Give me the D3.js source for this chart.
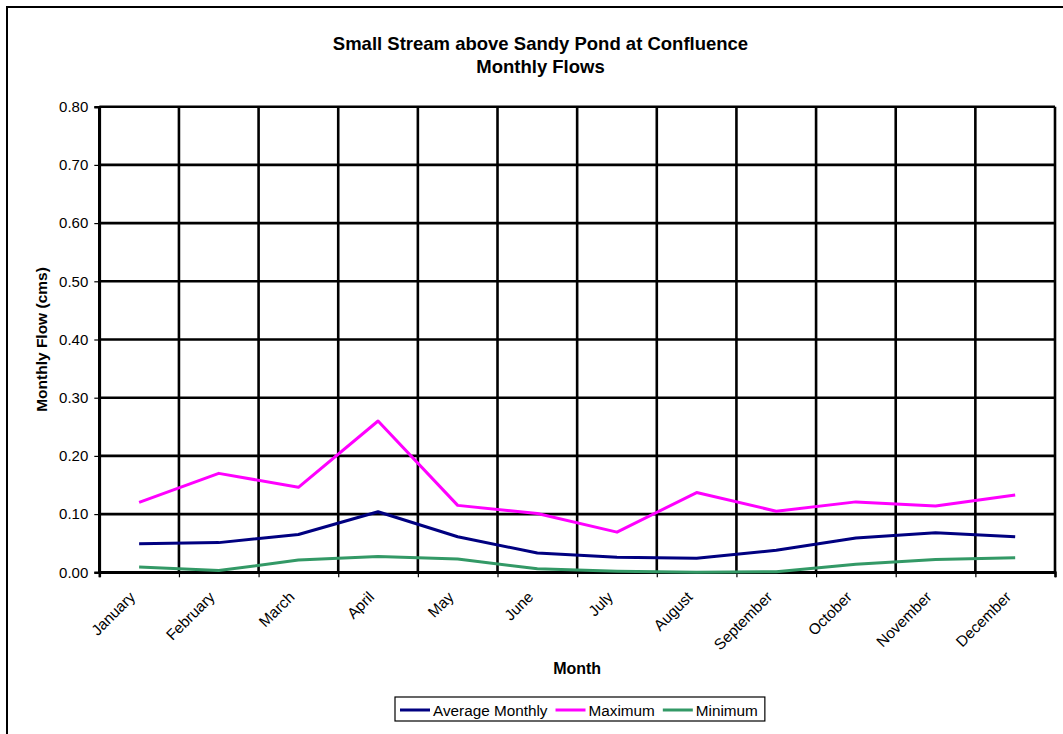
<!DOCTYPE html>
<html>
<head>
<meta charset="utf-8">
<script src="https://cdn.jsdelivr.net/npm/d3@7/dist/d3.min.js"></script>
<style>
  html, body { margin: 0; padding: 0; background: #fff; }
  svg { display: block; font-family: "Liberation Sans", Arial, sans-serif; }
</style>
</head>
<body>
<svg id="chart" width="1063" height="734"></svg>
<script>
// Monthly flow statistics (cms)
const months = ["January", "February", "March", "April", "May", "June",
                "July", "August", "September", "October", "November", "December"];
const averageMonthly = [0.049, 0.051, 0.065, 0.104, 0.061, 0.033, 0.026, 0.024, 0.038, 0.059, 0.068, 0.061];
const maximum        = [0.120, 0.170, 0.146, 0.260, 0.115, 0.101, 0.069, 0.137, 0.105, 0.121, 0.114, 0.133];
const minimum        = [0.009, 0.003, 0.021, 0.027, 0.023, 0.006, 0.002, 0.000, 0.001, 0.014, 0.022, 0.025];
const yTicks = [0, 0.1, 0.2, 0.3, 0.4, 0.5, 0.6, 0.7, 0.8];

const series = [
  { name: "Average Monthly", values: averageMonthly, color: "#000080" },
  { name: "Maximum",         values: maximum,        color: "#FF00FF" },
  { name: "Minimum",         values: minimum,        color: "#339966" }
];

const svg = d3.select("#chart");
const plot = { left: 99.3, right: 1055, top: 106.7, bottom: 572.3 };

// Chart area frame
svg.append("rect")
  .attr("x", 7).attr("y", 7).attr("width", 1100).attr("height", 800)
  .attr("fill", "#fff").attr("stroke", "#000").attr("stroke-width", 2);

const x = d3.scaleBand().domain(months).range([plot.left, plot.right]).padding(0);
const xEdges = d3.scaleLinear().domain([0, months.length]).range([plot.left, plot.right]);
const y = d3.scaleLinear().domain([0, 0.8]).range([plot.bottom, plot.top]);

// Gridlines
const grid = svg.append("g").attr("stroke", "#000").attr("stroke-width", 2.6);
grid.selectAll("line.h").data(yTicks).join("line")
  .attr("class", "h")
  .attr("x1", plot.left).attr("x2", plot.right)
  .attr("y1", d => y(d)).attr("y2", d => y(d));
grid.selectAll("line.v").data(d3.range(months.length + 1)).join("line")
  .attr("class", "v")
  .attr("x1", d => xEdges(d)).attr("x2", d => xEdges(d))
  .attr("y1", plot.top).attr("y2", plot.bottom);

// Y axis
const yAxis = svg.append("g")
  .attr("transform", `translate(${plot.left},0)`)
  .call(d3.axisLeft(y).tickValues(yTicks).tickFormat(d3.format(".2f")).tickSize(5).tickPadding(6));
yAxis.select(".domain").attr("stroke", "#000").attr("stroke-width", 2.6);
yAxis.selectAll(".tick line").attr("stroke", "#000").attr("stroke-width", 1.2);
yAxis.selectAll(".tick text").attr("font-size", 15).attr("fill", "#000")
  .attr("font-family", "Liberation Sans, Arial, sans-serif");

// X axis: ticks at category edges
const xAxis = svg.append("g")
  .attr("transform", `translate(0,${plot.bottom})`)
  .call(d3.axisBottom(xEdges).tickValues(d3.range(months.length + 1)).tickFormat("").tickSize(5));
xAxis.select(".domain").attr("stroke", "#000").attr("stroke-width", 2.6);
xAxis.selectAll(".tick line").attr("stroke", "#000").attr("stroke-width", 1.2);

// Rotated month labels
svg.append("g").selectAll("text").data(months).join("text")
  .attr("transform", d => `translate(${x(d) + x.bandwidth() / 2 - 3},598) rotate(-45)`)
  .attr("text-anchor", "end")
  .attr("font-size", 15.3)
  .attr("fill", "#000")
  .text(d => d);

// Series lines
const line = d3.line()
  .x((d, i) => x(months[i]) + x.bandwidth() / 2)
  .y(d => y(d));
svg.append("g").selectAll("path").data(series).join("path")
  .attr("d", s => line(s.values))
  .attr("fill", "none")
  .attr("stroke", s => s.color)
  .attr("stroke-width", 3)
  .attr("stroke-linejoin", "round");

// Titles
const cx = 540.5;
svg.append("text").attr("x", cx).attr("y", 50).attr("text-anchor", "middle")
  .attr("font-size", 18.5).attr("font-weight", "bold").text("Small Stream above Sandy Pond at Confluence");
svg.append("text").attr("x", cx).attr("y", 73).attr("text-anchor", "middle")
  .attr("font-size", 18.5).attr("font-weight", "bold").text("Monthly Flows");

svg.append("text").attr("x", (plot.left + plot.right) / 2).attr("y", 674).attr("text-anchor", "middle")
  .attr("font-size", 16).attr("font-weight", "bold").text("Month");

svg.append("text")
  .attr("transform", `translate(47,${(plot.top + plot.bottom) / 2}) rotate(-90)`)
  .attr("text-anchor", "middle")
  .attr("font-size", 15.5).attr("font-weight", "bold").text("Monthly Flow (cms)");

// Legend
const legend = svg.append("g");
const legendBox = legend.append("rect")
  .attr("fill", "#fff").attr("stroke", "#000").attr("stroke-width", 1.2);
let lx = 400;
const ly = 710;
series.forEach(s => {
  legend.append("line")
    .attr("x1", lx).attr("x2", lx + 30).attr("y1", ly).attr("y2", ly)
    .attr("stroke", s.color).attr("stroke-width", 3);
  const t = legend.append("text")
    .attr("x", lx + 33).attr("y", ly + 5.5)
    .attr("font-size", 15.3).attr("fill", "#000").text(s.name);
  lx += 33 + t.node().getComputedTextLength() + 8;
});
legendBox.attr("x", 395).attr("y", 697).attr("width", lx - 8 + 7 - 395).attr("height", 24);
</script>
</body>
</html>
